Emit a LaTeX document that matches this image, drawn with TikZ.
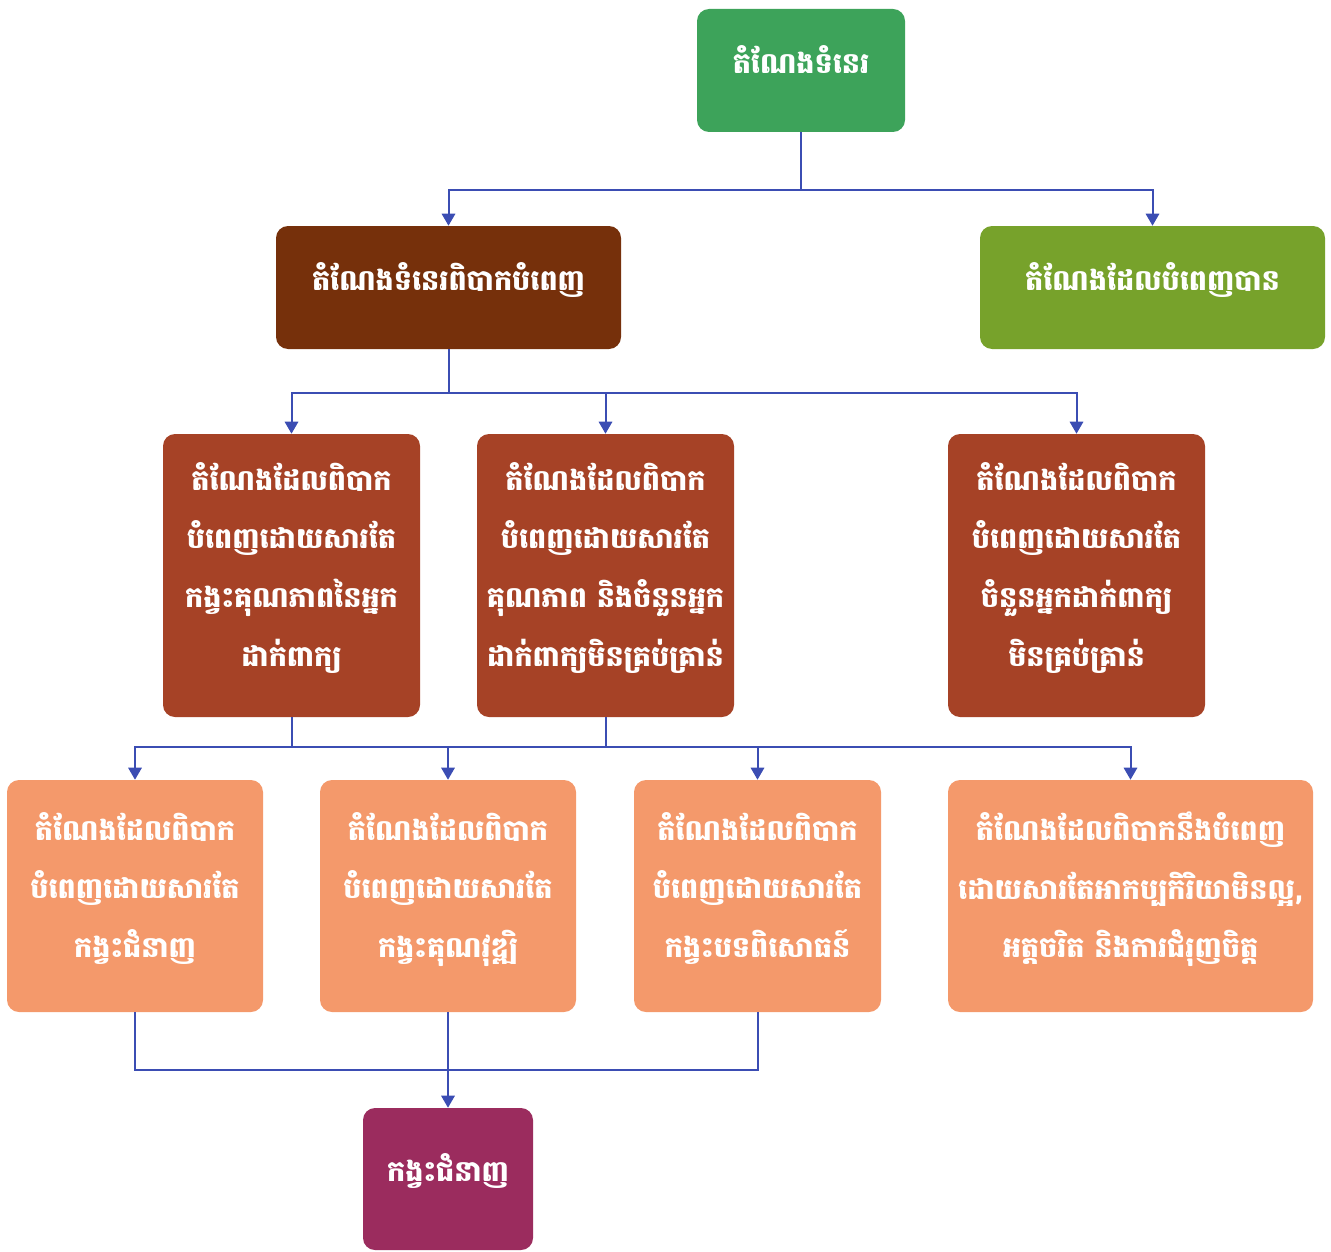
\documentclass[tikz,border=0pt]{standalone}
\usepackage{fontspec}
\newfontfamily\khmer[Script=Khmer]{Battambang}
\usetikzlibrary{arrows.meta}
\definecolor{cgreen}{HTML}{3DA35A}
\definecolor{cbrown}{HTML}{76300B}
\definecolor{colive}{HTML}{77A22B}
\definecolor{crust}{HTML}{A64226}
\definecolor{csalmon}{HTML}{F4996B}
\definecolor{cpurple}{HTML}{9B2C5E}
\definecolor{cline}{HTML}{3B4DB3}
\newcommand{\lowstrut}{\rule[-17pt]{0pt}{17pt}}
\tikzset{
  box/.style={rounded corners=9pt, inner sep=0pt, align=center, text=white,
    font=\khmer\bfseries\fontsize{21.5}{44}\selectfont},
  conn/.style={draw=cline, line width=1.5pt},
  arr/.style={conn, -{Triangle[width=10pt,length=9pt]}},
}
\begin{document}
\begin{tikzpicture}[x=0.75pt,y=-0.75pt]
\useasboundingbox (0,0) rectangle (1331,1252);
\node[box, fill=cgreen, minimum width=156pt, minimum height=92.25pt] (top) at (801,70.5) {តំណែងទំនេរ\lowstrut};
\node[box, fill=cbrown, minimum width=258.75pt, minimum height=92.25pt] (hard) at (448.5,287.5) {តំណែងទំនេរពិបាកបំពេញ\lowstrut};
\node[box, fill=colive, minimum width=258.75pt, minimum height=92.25pt] (fill) at (1152.5,287.5) {តំណែងដែលបំពេញបាន\lowstrut};

\node[box, fill=crust, minimum width=192.75pt, minimum height=212.25pt] (r1) at (291.5,575.5) {តំណែងដែលពិបាក\\បំពេញដោយសារតែ\\កង្វះគុណភាពនៃអ្នក\\ដាក់ពាក្យ\lowstrut};
\node[box, fill=crust, minimum width=192.75pt, minimum height=212.25pt] (r2) at (605.5,575.5) {តំណែងដែលពិបាក\\បំពេញដោយសារតែ\\គុណភាព និងចំនួនអ្នក\\ដាក់ពាក្យមិនគ្រប់គ្រាន់\lowstrut};
\node[box, fill=crust, minimum width=192.75pt, minimum height=212.25pt] (r3) at (1076.5,575.5) {តំណែងដែលពិបាក\\បំពេញដោយសារតែ\\ចំនួនអ្នកដាក់ពាក្យ\\មិនគ្រប់គ្រាន់\lowstrut};

\node[box, fill=csalmon, minimum width=192pt, minimum height=174pt] (s1) at (135,896) {តំណែងដែលពិបាក\\បំពេញដោយសារតែ\\កង្វះជំនាញ\lowstrut};
\node[box, fill=csalmon, minimum width=192pt, minimum height=174pt] (s2) at (448,896) {តំណែងដែលពិបាក\\បំពេញដោយសារតែ\\កង្វះគុណវុឌ្ឍិ\lowstrut};
\node[box, fill=csalmon, minimum width=185.25pt, minimum height=174pt] (s3) at (757.5,896) {តំណែងដែលពិបាក\\បំពេញដោយសារតែ\\កង្វះបទពិសោធន៍\lowstrut};
\node[box, fill=csalmon, minimum width=273.75pt, minimum height=174pt] (s4) at (1130.5,896) {តំណែងដែលពិបាកនឹងបំពេញ\\ដោយសារតែអាកប្បកិរិយាមិនល្អ,\\អត្តចរិត និងការជំរុញចិត្ត\lowstrut};

\node[box, fill=cpurple, minimum width=127.5pt, minimum height=106.5pt] (skill) at (448,1179) {កង្វះជំនាញ\lowstrut};

% level 1
\coordinate (j1) at (801,190);
\draw[conn] (top.south) -- (j1);
\draw[arr] (j1) -| (hard.north);
\draw[arr] (j1) -| (fill.north);
% level 2
\coordinate (j2) at (448.5,393);
\draw[conn] (hard.south) -- (j2);
\draw[arr] (j2) -| (r1.north);
\draw[arr] (j2) -| (r2.north);
\draw[arr] (j2) -| (r3.north);
% level 3
\coordinate (j3a) at (291.5,747);
\coordinate (j3b) at (605.5,747);
\draw[conn] (r1.south) -- (j3a);
\draw[conn] (r2.south) -- (j3b);
\draw[arr] (j3a) -| (s1.north);
\draw[arr] (j3a) -| (s2.north);
\draw[arr] (j3a) -| (s3.north);
\draw[arr] (j3a) -| (s4.north);
% level 4
\coordinate (j4) at (448,1070);
\draw[conn] (s1.south) |- (j4);
\draw[conn] (s3.south) |- (j4);
\draw[conn] (s2.south) -- (j4);
\draw[arr] (j4) -- (skill.north);
\end{tikzpicture}
\end{document}
